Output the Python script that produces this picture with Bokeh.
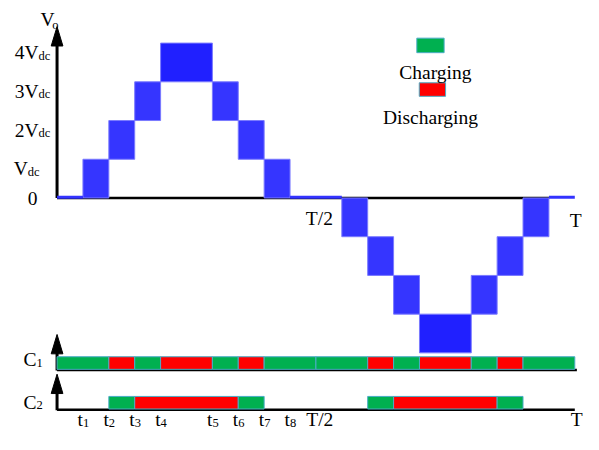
from bokeh.plotting import figure
from bokeh.models import Range1d
from bokeh.embed import file_html
from bokeh.resources import INLINE
from bokeh.core.properties import value

# ---------------- data (time in ms, T = 20; voltage in units of Vdc) ----------------
PERIOD = 20
HALF = 10
BLOCK_T0 = [1, 2, 3, 4, 6, 7, 8, 11, 12, 13, 14, 16, 17, 18]
BLOCK_T1 = [2, 3, 4, 6, 7, 8, 9, 12, 13, 14, 16, 17, 18, 19]
BLOCK_LO = [0, 1, 2, 3, 2, 1, 0, -1, -2, -3, -4, -3, -2, -1]
BLOCK_HI = [1, 2, 3, 4, 3, 2, 1, 0, -1, -2, -3, -2, -1, 0]
ZERO_T0 = [0, 9, 19]
ZERO_T1 = [1, 11, 20]

C1_T0 = [0, 2, 3, 4, 6, 7, 8, 10, 12, 13, 14, 16, 17, 18]
C1_T1 = [2, 3, 4, 6, 7, 8, 10, 12, 13, 14, 16, 17, 18, 20]
C1_STATE = ["C", "D", "C", "D", "C", "D", "C", "C", "D", "C", "D", "C", "D", "C"]
C2_T0 = [2, 3, 7, 12, 13, 17]
C2_T1 = [3, 7, 8, 13, 17, 18]
C2_STATE = ["C", "D", "C", "C", "D", "C"]

LEVELS = [0, 1, 2, 3, 4]
LEVEL_MAIN = ["0", "V", "2V", "3V", "4V"]
LEVEL_SUB = ["", "dc", "dc", "dc", "dc"]
TICK_T = [1, 2, 3, 4, 6, 7, 8, 9]
TICK_SUB = ["1", "2", "3", "4", "5", "6", "7", "8"]
STATE_NAMES = {"C": "Charging", "D": "Discharging"}

# ---------------- layout / style ----------------
W, H = 583, 434
X0, X1 = -2.1846, 20.336
Y0, Y1 = -6.108, 5.1
SX = W / (X1 - X0) / 26.55          # figure px per design px (x)
SY = H / (Y1 - Y0) / 40.0           # figure px per design px (y)
PXT = 1 / 26.55                     # time units per design px
PXV = 1 / 40.0                      # volt units per design px
C1_BASE = -4.425
C2_BASE = -5.45
BAR_H = 13 * PXV
FONT = value("Liberation Serif")
MAIN_FS = "19.5px"
SUB_FS = "12.5px"
GREEN, RED = "#00b050", "#ff0000"
BAR_LINE = "#4bacc6"
STATE_COLOR = {"C": GREEN, "D": RED}

p = figure(width=W, height=H, x_range=Range1d(X0, X1), y_range=Range1d(Y0, Y1),
           output_backend="svg", toolbar_location=None, min_border=0,
           x_axis_location=None, y_axis_location=None)
p.grid.visible = False
p.outline_line_color = None
p.background_fill_color = "white"


def arrow_head(x, tip):
    hw, ln = 6 * PXT, 20 * PXV
    p.patch([x - hw, x, x + hw], [tip - ln, tip, tip - ln], color="black")


def text(x, y, s, size=MAIN_FS, align="left"):
    p.text(x=x, y=y, text=s, text_font=FONT, text_font_size=size,
           text_align=align, text_baseline="alphabetic", text_color="black")


# ---- main axes ----
main_tip = 4.425
p.line([0, 19], [0, 0], line_color="black", line_width=2.5)
p.line([0, 0], [0, main_tip - 15 * PXV], line_color="black", line_width=3)
arrow_head(0, main_tip)

# ---- waveform blocks ----
fills = ["#2020ff" if max(abs(a), abs(b)) == 4 else "#3535ff" for a, b in zip(BLOCK_LO, BLOCK_HI)]
p.quad(left=BLOCK_T0, right=BLOCK_T1, bottom=BLOCK_LO, top=BLOCK_HI,
       fill_color=fills, line_color="#7a7aff", line_width=1)
p.segment(x0=ZERO_T0, y0=[0.02] * 3, x1=ZERO_T1, y1=[0.02] * 3,
          line_color="#3333ff", line_width=3)

# ---- capacitor rows ----
for base, t0, t1, st in ((C1_BASE, C1_T0, C1_T1, C1_STATE),
                         (C2_BASE, C2_T0, C2_T1, C2_STATE)):
    p.line([0, PERIOD + (0.08 if base == C1_BASE else 0)], [base - 0.02, base - 0.02],
           line_color="black", line_width=2.5)
    tip = base + 36 * PXV
    p.line([0, 0], [base - 0.03, tip - 15 * PXV], line_color="black", line_width=3)
    arrow_head(0, tip)
    p.quad(left=t0, right=t1, bottom=[base] * len(t0), top=[base + BAR_H] * len(t0),
           fill_color=[STATE_COLOR[s] for s in st], line_color=BAR_LINE, line_width=1)

# ---- y level labels ----
lx_off = [-20, -30, -19, -19, -19]
ly_off = [1, 10, 10, 10, 10]
for lv, m, s, xo, yo in zip(LEVELS, LEVEL_MAIN, LEVEL_SUB, lx_off, ly_off):
    text([xo * PXT], [lv - yo * PXV], [m], align="right")
    if s:
        text([xo * PXT], [lv - (yo + 3) * PXV], [s], size=SUB_FS)

# V_o
text([-17 * PXT], [main_tip + 7 * PXV], ["V"])
text([-5 * PXT], [main_tip + 2 * PXV], ["o"], size=SUB_FS)

# C1 / C2
for base, sub, yo in ((C1_BASE, "1", 10), (C2_BASE, "2", 7)):
    text([-21 * PXT], [base + yo * PXV], ["C"], align="right")
    text([-21 * PXT], [base + (yo - 3) * PXV], [sub], size=SUB_FS)

# bottom time labels
bl = C2_BASE - 11 * PXV
text(TICK_T, [bl] * len(TICK_T), ["t"] * len(TICK_T), align="right")
text(TICK_T, [bl - 3 * PXV] * len(TICK_T), TICK_SUB, size=SUB_FS)
text([HALF + 4 * PXT], [bl], ["T/2"], align="center")
text([PERIOD + 2 * PXT], [bl], ["T"], align="center")

# labels on the zero line
text([HALF + 3.5 * PXT], [-21 * PXV], ["T/2"], align="center")
text([PERIOD + 1 * PXT], [-23 * PXV], ["T"], align="center")

# ---- legend ----
LEG_T = 14.5
p.rect(x=[LEG_T - 2 * PXT], y=[3.94], width=28 * SX, height=15 * SY, width_units="screen",
       height_units="screen", fill_color=GREEN, line_color=BAR_LINE, line_width=1)
p.rect(x=[LEG_T], y=[2.80], width=27 * SX, height=14 * SY, width_units="screen",
       height_units="screen", fill_color=RED, line_color=BAR_LINE, line_width=1)
text([LEG_T + 3 * PXT], [3.25], [STATE_NAMES["C"]], align="center")
text([LEG_T - 2 * PXT], [2.08], [STATE_NAMES["D"]], align="center")

open("out.html", "w").write(file_html(p, INLINE))
